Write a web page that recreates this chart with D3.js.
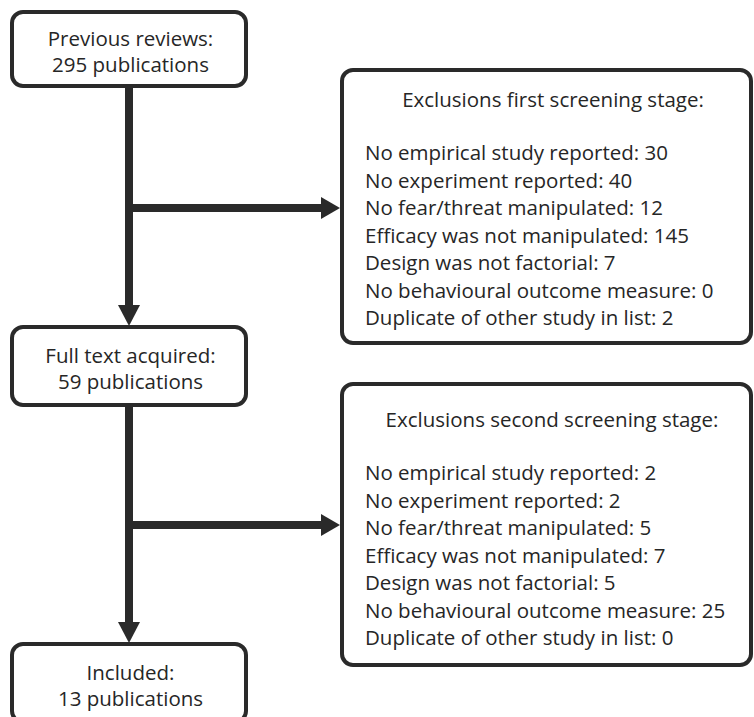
<!DOCTYPE html>
<html><head><meta charset="utf-8">
<script src="https://cdn.jsdelivr.net/npm/d3@7"></script>
<style>body{margin:0;background:#fff}svg{display:block}</style>
</head><body>
<svg id="c" width="754" height="717"></svg>
<script>
// ---- data ----
const stageLabels = ["Previous reviews:", "Full text acquired:", "Included:"];
const stageCounts = [295, 59, 13];
const exclusionTitles = ["Exclusions first screening stage:", "Exclusions second screening stage:"];
const reasons = ["No empirical study reported", "No experiment reported", "No fear/threat manipulated",
  "Efficacy was not manipulated", "Design was not factorial", "No behavioural outcome measure",
  "Duplicate of other study in list"];
const firstStage = [30, 40, 12, 145, 7, 0, 2];
const secondStage = [2, 2, 5, 7, 5, 25, 0];

// ---- drawing ----
const svg = d3.select("#c");
const ink = "#2a2a2a", txt = "#262626";
const font = "'Open Sans', sans-serif", fs = 20.5;

const leftBoxes = [{y0:10,y1:88},{y0:325,y1:407},{y0:642,y1:724}];
const rightBoxes = [{y0:68,y1:345,cx:553,title:107,first:160,vals:firstStage},
                    {y0:382,y1:667,cx:552,title:427,first:480,vals:secondStage}];
const lx0 = 10, lx1 = 248, rx0 = 340, rx1 = 753, sw = 4, spineX = 129;

function vArrow(yStart, yEnd){
  svg.append("line").attr("x1",spineX).attr("x2",spineX).attr("y1",yStart).attr("y2",yEnd-20)
    .attr("stroke",ink).attr("stroke-width",8);
  svg.append("path").attr("d",`M${spineX-11},${yEnd-21}L${spineX+11},${yEnd-21}L${spineX},${yEnd}Z`).attr("fill",ink);
}
function hArrow(y){
  svg.append("line").attr("x1",spineX).attr("x2",322).attr("y1",y).attr("y2",y)
    .attr("stroke",ink).attr("stroke-width",8);
  svg.append("path").attr("d",`M321,${y-11}L321,${y+11}L${rx0},${y}Z`).attr("fill",ink);
}
vArrow(leftBoxes[0].y1-2, leftBoxes[1].y0+1);
vArrow(leftBoxes[1].y1-2, leftBoxes[2].y0+1);
hArrow((leftBoxes[0].y1+leftBoxes[1].y0)/2 + 1.5);
hArrow((leftBoxes[1].y1+leftBoxes[2].y0)/2 + 0.5);

// left boxes
leftBoxes.forEach((b,i)=>{
  svg.append("rect").attr("x",lx0+sw/2).attr("y",b.y0+sw/2).attr("width",lx1-lx0-sw).attr("height",b.y1-b.y0-sw)
    .attr("rx",11).attr("fill","#fff").attr("stroke",ink).attr("stroke-width",sw);
  const cy = (b.y0+b.y1)/2;
  const cx = (lx0+lx1)/2+1.5;
  const t = svg.append("text").attr("text-anchor","middle")
    .attr("font-family",font).attr("font-size",fs).attr("fill",txt);
  t.append("tspan").attr("x",cx).attr("y",cy-3).text(stageLabels[i]);
  t.append("tspan").attr("x",cx).attr("y",cy+23).text(stageCounts[i]+" publications");
});

// right boxes
rightBoxes.forEach((b,k)=>{
  svg.append("rect").attr("x",rx0+sw/2).attr("y",b.y0+sw/2).attr("width",rx1-rx0-sw).attr("height",b.y1-b.y0-sw)
    .attr("rx",11).attr("fill","#fff").attr("stroke",ink).attr("stroke-width",sw);
  svg.append("text").attr("x",b.cx).attr("y",b.title).attr("text-anchor","middle")
    .attr("font-family",font).attr("font-size",fs).attr("fill",txt).text(exclusionTitles[k]);
  const y = d3.scaleLinear().domain([0, reasons.length-1]).range([b.first, b.first + 6*27.5]);
  svg.append("g").selectAll("text").data(reasons).join("text")
    .attr("x",365).attr("y",(d,i)=>y(i))
    .attr("font-family",font).attr("font-size",fs).attr("fill",txt)
    .text((d,i)=>d+": "+b.vals[i]);
});
</script>
</body></html>
